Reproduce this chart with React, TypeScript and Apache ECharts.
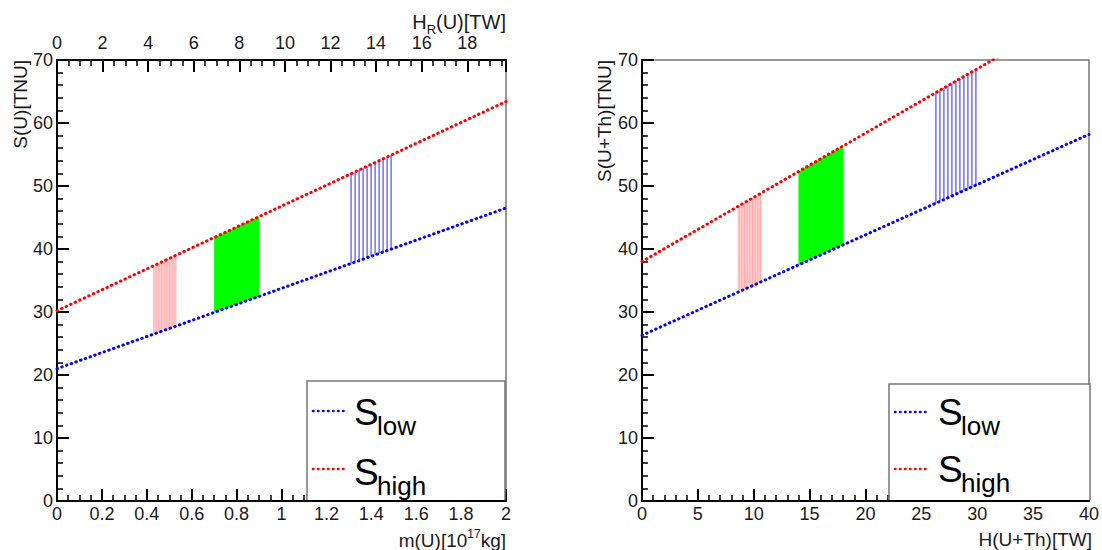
import React, { useEffect, useRef } from 'react';
import * as echarts from 'echarts';

// ---- data ----
const LEFT_X = [0, 2];                 // m(U) [10^17 kg]
const LEFT_S_LOW = [21.0, 46.5];       // S(U) [TNU]
const LEFT_S_HIGH = [30.2, 63.4];
const RIGHT_X = [0, 40];               // H(U+Th) [TW]
const RIGHT_S_LOW = [26.3, 58.2];      // S(U+Th) [TNU]
const RIGHT_S_HIGH = [38.0, 78.8];
const BAND_KIND = ['red', 'green', 'blue'];
const LEFT_BAND_FROM = [0.43, 0.70, 1.31];
const LEFT_BAND_TO = [0.53, 0.90, 1.49];
const RIGHT_BAND_FROM = [8.6, 14.0, 26.3];
const RIGHT_BAND_TO = [10.7, 18.0, 29.9];
const TW_PER_MASS = 9.85;              // H_R(U) [TW] per 10^17 kg

const FONT = "'Liberation Sans', Arial, Helvetica, sans-serif";
const TXT = '#1a1a1a';

const lin = (xs: number[], ys: number[], x: number) =>
  ys[0] + ((ys[1] - ys[0]) * (x - xs[0])) / (xs[1] - xs[0]);

function bandSeries(xs: number[], low: number[], high: number[], from: number[], to: number[], gi: number) {
  return {
    type: 'custom',
    xAxisIndex: gi === 0 ? 0 : 2,
    yAxisIndex: gi,
    z: 1,
    clip: true,
    data: from.map((f, i) => [f, to[i], i]),
    renderItem: (params: any, api: any) => {
      const x0 = api.value(0);
      const x1 = api.value(1);
      const kind = BAND_KIND[api.value(2)];
      const p0 = api.coord([x0, lin(xs, low, x0)]);
      const p1 = api.coord([x1, lin(xs, low, x1)]);
      const p2 = api.coord([x1, lin(xs, high, x1)]);
      const p3 = api.coord([x0, lin(xs, high, x0)]);
      if (kind === 'green') {
        return { type: 'polygon', shape: { points: [p0, p1, p2, p3] }, style: { fill: '#00ff00' } };
      }
      const step = kind === 'red' ? 1.6 : 4;
      const stroke = kind === 'red' ? '#ff9a9a' : '#5a5aff';
      const lw = kind === 'red' ? 0.7 : 1.3;
      const children: any[] = [];
      if (kind === 'red') {
        children.push({ type: 'polygon', shape: { points: [p0, p1, p2, p3] }, style: { fill: 'rgba(255,150,150,0.3)' } });
      }
      for (let px = p0[0]; px <= p1[0] + 0.01; px += step) {
        const t = (px - p0[0]) / (p1[0] - p0[0]);
        const yb = p0[1] + t * (p1[1] - p0[1]);
        const yt = p3[1] + t * (p2[1] - p3[1]);
        children.push({ type: 'line', shape: { x1: px, y1: yb, x2: px, y2: yt }, style: { stroke, lineWidth: lw } });
      }
      return { type: 'group', children };
    },
  };
}

function lineSeries(xs: number[], ys: number[], color: string, gi: number) {
  return {
    type: 'line',
    xAxisIndex: gi === 0 ? 0 : 2,
    yAxisIndex: gi,
    z: 3,
    symbol: 'none',
    silent: true,
    data: xs.map((x, i) => [x, ys[i]]),
    lineStyle: { color, width: 3, type: [0.5, 4.5], cap: 'round' },
  };
}

const axisCommon = {
  type: 'value',
  axisLine: { show: true, onZero: false, lineStyle: { color: '#000', width: 2 } },
  axisTick: { show: true, inside: true, length: 12, lineStyle: { color: '#000', width: 2 } },
  minorTick: { show: true, length: 6, lineStyle: { color: '#000', width: 1.5 } },
  splitLine: { show: false },
  minorSplitLine: { show: false },
  axisLabel: { color: TXT, fontSize: 18, fontFamily: FONT },
};

const mid = (baseline: number, fs: number) => baseline - 0.3465 * fs;

function legendGraphics(box: number[], sX: number, subX: number, lineX: number[], rows: any[]) {
  const [l, t, r, b] = box;
  const els: any[] = [
    { type: 'rect', z: 100, shape: { x: l, y: t, width: r - l, height: b - t }, style: { fill: '#fff' } },
    { type: 'polyline', z: 101, shape: { points: [[l, b], [l, t], [r, t], [r, b]] }, style: { stroke: '#777', lineWidth: 1.5, fill: null } },
  ];
  rows.forEach((row) => {
    els.push({ type: 'line', z: 101, shape: { x1: lineX[0], y1: row.ly, x2: lineX[1], y2: row.ly }, style: { stroke: row.color, lineWidth: 2.5, lineDash: [0.5, 4.5], lineCap: 'round' } });
    els.push({ type: 'text', z: 101, x: sX, y: mid(row.sb, 37), style: { text: 'S', fontSize: 37, fontFamily: FONT, fill: '#000', align: 'left', verticalAlign: 'middle' } });
    els.push({ type: 'text', z: 101, x: subX, y: mid(row.subb, 26), style: { text: row.sub, fontSize: 26, fontFamily: FONT, fill: '#000', align: 'left', verticalAlign: 'middle' } });
  });
  return els;
}

export default function App() {
  const ref = useRef<HTMLDivElement>(null);
  useEffect(() => {
    const chart = echarts.init(ref.current!, null, { renderer: 'svg' });
    const option: any = {
      animation: false,
      backgroundColor: '#fff',
      grid: [
        { left: 57, top: 60, width: 449, height: 441, show: true, borderColor: '#777', borderWidth: 1.5, backgroundColor: 'transparent' },
        { left: 642, top: 60, width: 448, height: 441, show: true, borderColor: '#777', borderWidth: 1.5, backgroundColor: 'transparent' },
      ],
      xAxis: [
        {
          ...axisCommon, gridIndex: 0, position: 'bottom', min: LEFT_X[0], max: LEFT_X[1], interval: 0.2,
          minorTick: { ...axisCommon.minorTick, splitNumber: 4 },
          axisLabel: { ...axisCommon.axisLabel, margin: 4, formatter: (v: number) => String(Math.round(v * 10) / 10) },
        },
        {
          ...axisCommon, gridIndex: 0, position: 'top', min: 0, max: LEFT_X[1] * TW_PER_MASS, interval: 2,
          minorTick: { ...axisCommon.minorTick, splitNumber: 4 },
          axisLabel: { ...axisCommon.axisLabel, margin: 8, showMaxLabel: false },
        },
        {
          ...axisCommon, gridIndex: 1, position: 'bottom', min: RIGHT_X[0], max: RIGHT_X[1], interval: 5,
          minorTick: { ...axisCommon.minorTick, splitNumber: 5 },
          axisLabel: { ...axisCommon.axisLabel, margin: 4 },
        },
      ],
      yAxis: [
        {
          ...axisCommon, gridIndex: 0, min: 0, max: 70, interval: 10,
          minorTick: { ...axisCommon.minorTick, splitNumber: 5 },
          axisLabel: { ...axisCommon.axisLabel, margin: 4 },
        },
        {
          ...axisCommon, gridIndex: 1, min: 0, max: 70, interval: 10,
          minorTick: { ...axisCommon.minorTick, splitNumber: 5 },
          axisLabel: { ...axisCommon.axisLabel, margin: 4 },
        },
      ],
      series: [
        bandSeries(LEFT_X, LEFT_S_LOW, LEFT_S_HIGH, LEFT_BAND_FROM, LEFT_BAND_TO, 0),
        lineSeries(LEFT_X, LEFT_S_LOW, '#0000ff', 0),
        lineSeries(LEFT_X, LEFT_S_HIGH, '#ff0000', 0),
        bandSeries(RIGHT_X, RIGHT_S_LOW, RIGHT_S_HIGH, RIGHT_BAND_FROM, RIGHT_BAND_TO, 1),
        lineSeries(RIGHT_X, RIGHT_S_LOW, '#0000ff', 1),
        lineSeries(RIGHT_X, RIGHT_S_HIGH, '#ff0000', 1),
      ],
      graphic: [
        ...legendGraphics([307, 381, 505, 500], 354, 377, [313, 345], [
          { ly: 411, sb: 425, sub: 'low', subb: 435, color: '#0000ff' },
          { ly: 469, sb: 485, sub: 'high', subb: 495, color: '#ff0000' },
        ]),
        ...legendGraphics([889, 384, 1090, 500], 938, 961, [895, 927], [
          { ly: 412, sb: 425, sub: 'low', subb: 435, color: '#0000ff' },
          { ly: 469, sb: 482, sub: 'high', subb: 492, color: '#ff0000' },
        ]),
        { type: 'text', z: 102, x: 20, y: 60, rotation: Math.PI / 2, style: { text: 'S(U)[TNU]', fontSize: 19, fontFamily: FONT, fill: TXT, align: 'right', verticalAlign: 'middle' } },
        { type: 'text', z: 102, x: 604, y: 60, rotation: Math.PI / 2, style: { text: 'S(U+Th)[TNU]', fontSize: 19, fontFamily: FONT, fill: TXT, align: 'right', verticalAlign: 'middle' } },
        {
          type: 'text', z: 102, x: 506, y: mid(547, 19),
          style: {
            text: '{n|m(U)[10}{s|17}{n|kg]}', align: 'right', verticalAlign: 'middle', fill: TXT,
            rich: { n: { fontSize: 19, fontFamily: FONT, lineHeight: 24, fill: TXT }, s: { fontSize: 12, fontFamily: FONT, lineHeight: 12, verticalAlign: 'top', fill: TXT } },
          },
        },
        {
          type: 'text', z: 102, x: 506, y: mid(29, 20),
          style: {
            text: '{n|H}{s|R}{n|(U)[TW]}', align: 'right', verticalAlign: 'middle', fill: TXT,
            rich: { n: { fontSize: 20, fontFamily: FONT, lineHeight: 28, fill: TXT }, s: { fontSize: 13, fontFamily: FONT, lineHeight: 13, verticalAlign: 'bottom', fill: TXT } },
          },
        },
        { type: 'text', z: 102, x: 1092, y: mid(546, 19), style: { text: 'H(U+Th)[TW]', fontSize: 19, fontFamily: FONT, fill: TXT, align: 'right', verticalAlign: 'middle' } },
      ],
    };
    chart.setOption(option);
    return () => chart.dispose();
  }, []);
  return <div ref={ref} style={{ position: 'fixed', left: 0, top: 0, width: 1102, height: 550, background: '#fff' }} />;
}
